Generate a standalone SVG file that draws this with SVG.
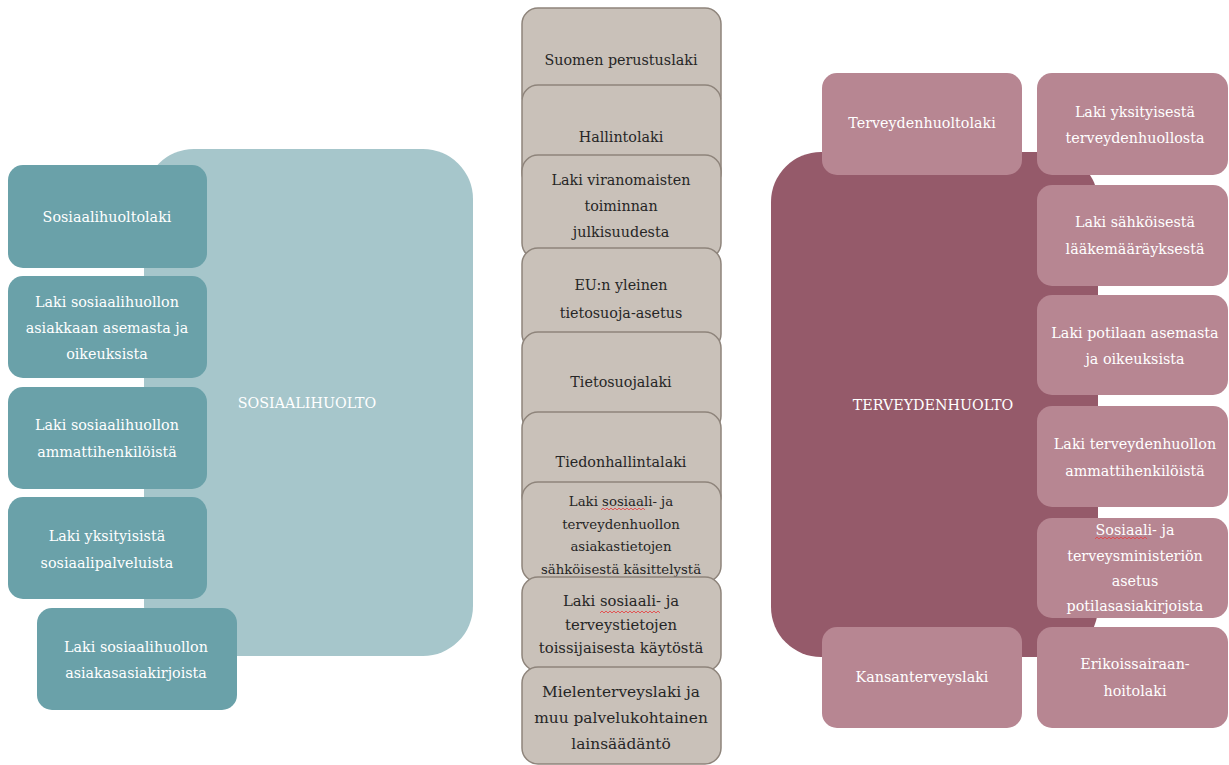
<svg xmlns="http://www.w3.org/2000/svg" width="1229" height="765" viewBox="0 0 1229 765">
<defs>
<style>
.bg{fill:#ffffff}
.bigL{fill:#A6C6CB}
.bigR{fill:#955A6A}
.tl{fill:#6AA1A9}
.pk{fill:#B78692}
.cb{fill:#C9C1B9;stroke:#8E847B;stroke-width:1.5}
text{font-family:"DejaVu Serif","Liberation Serif",serif;text-anchor:middle;dominant-baseline:central}
.w{fill:#ffffff;font-size:14.3px}
.d{fill:#262626;font-size:14.3px}
.sq{fill:none;stroke:#E4474A;stroke-width:0.9}
</style>
</defs>
<rect class="bg" x="0" y="0" width="1229" height="765"/>

<g id="sosiaalihuolto">
<rect class="bigL" x="144" y="149" width="329" height="507" rx="50"/>
<text class="w" x="307" y="403">SOSIAALIHUOLTO</text>
</g>
<g id="terveydenhuolto">
<rect class="bigR" x="771" y="152" width="327" height="505" rx="50"/>
<text class="w" x="933" y="405">TERVEYDENHUOLTO</text>
</g>

<g id="l1"><rect class="tl" x="8" y="165" width="199" height="103" rx="15"/><text class="w" x="107" y="217">Sosiaalihuoltolaki</text></g>
<g id="l2"><rect class="tl" x="8" y="276" width="199" height="102" rx="15"/><text class="w" x="107" y="302">Laki sosiaalihuollon<tspan x="107" dy="26">asiakkaan asemasta ja</tspan><tspan x="107" dy="26">oikeuksista</tspan></text></g>
<g id="l3"><rect class="tl" x="8" y="387" width="199" height="102" rx="15"/><text class="w" x="107" y="425">Laki sosiaalihuollon<tspan x="107" dy="27">ammattihenkilöistä</tspan></text></g>
<g id="l4"><rect class="tl" x="8" y="497" width="199" height="102" rx="15"/><text class="w" x="107" y="536">Laki yksityisistä<tspan x="107" dy="27">sosiaalipalveluista</tspan></text></g>
<g id="l5"><rect class="tl" x="37" y="608" width="200" height="102" rx="15"/><text class="w" x="136" y="647">Laki sosiaalihuollon<tspan x="136" dy="26">asiakasasiakirjoista</tspan></text></g>

<g id="c1"><rect class="cb" x="522" y="8" width="199" height="104" rx="16"/><text class="d" x="621" y="60">Suomen perustuslaki</text></g>
<g id="c2"><rect class="cb" x="522" y="85" width="199" height="104" rx="16"/><text class="d" x="621" y="137">Hallintolaki</text></g>
<g id="c3"><rect class="cb" x="522" y="155" width="199" height="104" rx="16"/><text class="d" x="621" y="180">Laki viranomaisten<tspan x="621" dy="26">toiminnan</tspan><tspan x="621" dy="26">julkisuudesta</tspan></text></g>
<g id="c4"><rect class="cb" x="522" y="248" width="199" height="102" rx="16"/><text class="d" x="621" y="285">EU:n yleinen<tspan x="621" dy="28">tietosuoja-asetus</tspan></text></g>
<g id="c5"><rect class="cb" x="522" y="332" width="199" height="100" rx="16"/><text class="d" x="621" y="382">Tietosuojalaki</text></g>
<g id="c6"><rect class="cb" x="522" y="412" width="199" height="100" rx="16"/><text class="d" x="621" y="462">Tiedonhallintalaki</text></g>
<g id="c7"><rect class="cb" x="522" y="482" width="199" height="100" rx="16"/><text class="d" x="621" y="501" style="font-size:13.3px">Laki sosiaali- ja<tspan x="621" dy="22.5">terveydenhuollon</tspan><tspan x="621" dy="22.5">asiakastietojen</tspan><tspan x="621" dy="23">sähköisestä käsittelystä</tspan></text>
<path class="sq" d="M601 510 l2 -2 2 2 2 -2 2 2 2 -2 2 2 2 -2 2 2 2 -2 2 2 2 -2 2 2 2 -2 2 2 2 -2 2 2 2 -2 2 2 2 -2 2 2 2 -2 2 2"/></g>
<g id="c8"><rect class="cb" x="522" y="577" width="199" height="94" rx="16"/><text class="d" x="621" y="600" style="font-size:14.8px">Laki sosiaali- ja<tspan x="621" dy="23.5">terveystietojen</tspan><tspan x="621" dy="23.5">toissijaisesta käytöstä</tspan></text>
<path class="sq" d="M600 613 l2 -2 2 2 2 -2 2 2 2 -2 2 2 2 -2 2 2 2 -2 2 2 2 -2 2 2 2 -2 2 2 2 -2 2 2 2 -2 2 2 2 -2 2 2 2 -2 2 2 2 -2 2 2 2 -2 2 2 2 -2 2 2 2 -2 2 2"/></g>
<g id="c9"><rect class="cb" x="522" y="667" width="199" height="97" rx="16"/><text class="d" x="621" y="692" style="font-size:15.4px">Mielenterveyslaki ja<tspan x="621" dy="26">muu palvelukohtainen</tspan><tspan x="621" dy="26">lainsäädäntö</tspan></text></g>

<g id="r0"><rect class="pk" x="822" y="73" width="200" height="102" rx="15"/><text class="w" x="922" y="123">Terveydenhuoltolaki</text></g>
<g id="r1"><rect class="pk" x="1037" y="73" width="191" height="102" rx="15"/><text class="w" x="1135" y="112">Laki yksityisestä<tspan x="1135" dy="26">terveydenhuollosta</tspan></text></g>
<g id="r2"><rect class="pk" x="1037" y="185" width="191" height="101" rx="15"/><text class="w" x="1135" y="222">Laki sähköisestä<tspan x="1135" dy="27">lääkemääräyksestä</tspan></text></g>
<g id="r3"><rect class="pk" x="1037" y="295" width="191" height="100" rx="15"/><text class="w" x="1135" y="333">Laki potilaan asemasta<tspan x="1135" dy="26">ja oikeuksista</tspan></text></g>
<g id="r4"><rect class="pk" x="1037" y="406" width="191" height="101" rx="15"/><text class="w" x="1135" y="444">Laki terveydenhuollon<tspan x="1135" dy="27">ammattihenkilöistä</tspan></text></g>
<g id="r5"><rect class="pk" x="1037" y="518" width="191" height="100" rx="15"/><text class="w" x="1135" y="530">Sosiaali- ja<tspan x="1135" dy="26">terveysministeriön</tspan><tspan x="1135" dy="25">asetus</tspan><tspan x="1135" dy="25">potilasasiakirjoista</tspan></text>
<path class="sq" d="M1095 539 l2 -2 2 2 2 -2 2 2 2 -2 2 2 2 -2 2 2 2 -2 2 2 2 -2 2 2 2 -2 2 2 2 -2 2 2 2 -2 2 2 2 -2 2 2 2 -2 2 2 2 -2 2 2 2 -2 2 2"/></g>
<g id="r6"><rect class="pk" x="1037" y="627" width="191" height="101" rx="15"/><text class="w" x="1135" y="664">Erikoissairaan-<tspan x="1135" dy="27">hoitolaki</tspan></text></g>
<g id="r7"><rect class="pk" x="822" y="627" width="200" height="101" rx="15"/><text class="w" x="922" y="677">Kansanterveyslaki</text></g>

<g id="connectors"></g>
</svg>
